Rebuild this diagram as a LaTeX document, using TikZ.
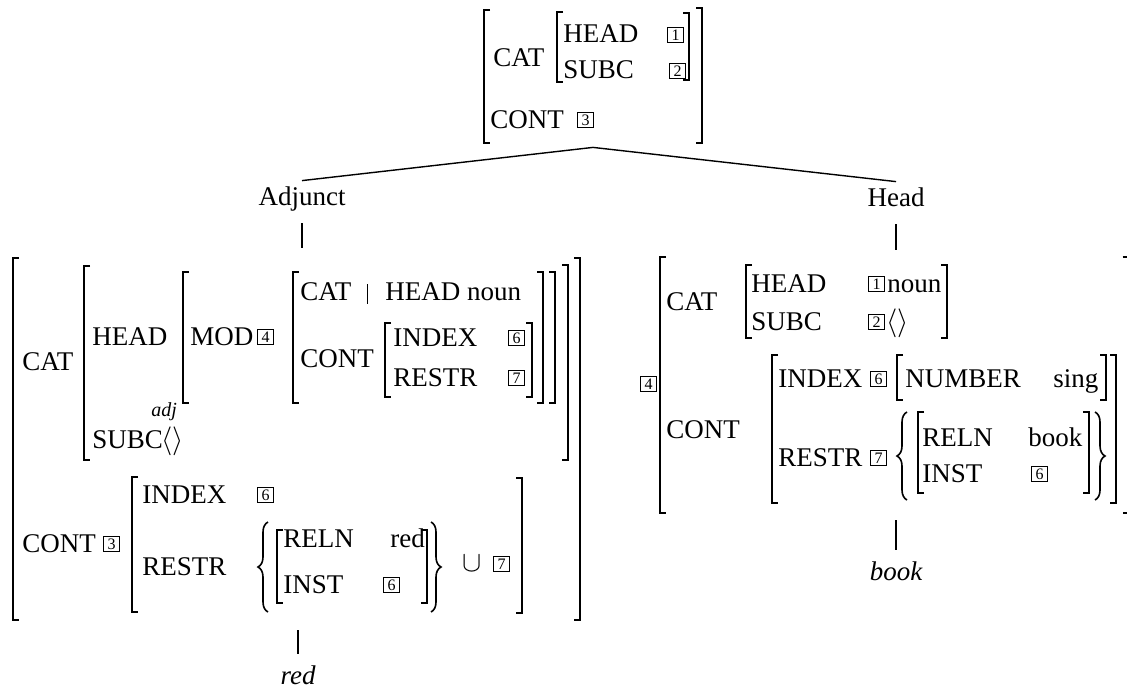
\documentclass[tikz,border=0pt]{standalone}
\usepackage{fontspec}
\setmainfont{Liberation Serif}
\usetikzlibrary{fit, decorations.pathreplacing}
\newcommand{\avmsize}{\fontsize{13.5}{16}\selectfont}
\newcommand{\lbrk}[3]{\draw[brk] (#1,#2) ++(6,0) -- ++(-6,0) -- (#1,#3) -- ++(6,0);}
\newcommand{\rbrk}[3]{\draw[brk] (#1,#2) ++(-6,0) -- ++(6,0) -- (#1,#3) -- ++(-6,0);}
\tikzset{
  av/.style={anchor=base west, inner sep=0pt},
  tg/.style={draw, line width=0.55pt, inner sep=0pt, minimum width=8pt, minimum height=7.5pt,
             anchor=south west, font=\fontsize{8}{8}\selectfont},
  brk/.style={line width=0.8pt},
  brc/.style={line width=0.8pt, decorate, decoration={brace, amplitude=#1}},
  brc/.default=5pt,
  lbl/.style={anchor=base, inner sep=3pt, text height=9pt, text depth=3pt},
  wrd/.style={anchor=base, inner sep=6pt, text height=9pt, text depth=0pt, font=\avmsize\itshape},
  box/.style={inner sep=0pt},
  edge/.style={line width=0.7pt}
}
\begin{document}
\begin{tikzpicture}[x=0.5pt, y=-0.5pt, font=\avmsize]
\useasboundingbox (0,0) rectangle (1127,690);
% mother
\node[av] (tcat) at (493,67) {CAT};
\node[av] (thead) at (563,43) {HEAD};
\node[tg] (t1) at (667,43) {1};
\node[av] (tsubc) at (563,79) {SUBC};
\node[tg] (t2) at (669,79) {2};
\node[av] (tcont) at (490,128) {CONT};
\node[tg] (t3) at (577,128) {3};
\lbrk{484}{10}{143} \lbrk{557}{12}{82} \rbrk{689}{13}{80} \rbrk{702}{8}{143}
\node[box, fit={(484,8) (702,143)}, inner sep=2pt] (tavm) {};
% adjunct daughter
\node[av] (lcat) at (22,370) {CAT};
\node[av] (lhead) at (92,345) {HEAD};
\node[av, font=\fontsize{10}{12}\selectfont\itshape] (ladj) at (151,416) {adj};
\node[av] (lmod) at (190,345) {MOD};
\node[tg] (l4) at (257,345) {4};
\node[av] (lmcat) at (300,300) {CAT};
\draw[line width=0.5pt] (367,284) -- (367,304);
\node[av] (lnoun) at (385,300) {HEAD noun};
\node[av] (lmcont) at (300,367) {CONT};
\node[av] (lmindex) at (393,346) {INDEX};
\node[tg] (lm6) at (508,346) {6};
\node[av] (lmrestr) at (393,386) {RESTR};
\node[tg] (lm7) at (508,386) {7};
\node[av] (lsubc) at (92,448) {SUBC};
\node[av] (lnil) at (161,448) {$\langle\rangle$};
\node[av] (lcont) at (22,552) {CONT};
\node[tg] (l3) at (103,552) {3};
\node[av] (lindex) at (142,503) {INDEX};
\node[tg] (l6) at (257,503) {6};
\node[av] (lrestr) at (142,575) {RESTR};
\node[av] (lreln) at (283,547) {RELN};
\node[av] (lred) at (390,547) {red};
\node[av] (linst) at (283,593) {INST};
\node[tg] (li6) at (383,593) {6};
\node[av] (lcup) at (462,571) {$\cup$};
\node[tg] (l7) at (493,572) {7};
\lbrk{13}{258}{620} \rbrk{580}{258}{620}
\lbrk{84}{266}{460} \rbrk{568}{265}{460}
\lbrk{183}{272}{403} \rbrk{555}{272}{403}
\lbrk{293}{272}{403} \rbrk{543}{272}{403}
\lbrk{385}{323}{397} \rbrk{532}{323}{397}
\lbrk{132}{477}{612} \rbrk{522}{478}{613}
\lbrk{277}{530}{603} \rbrk{427}{530}{603}
\draw[brc] (268,612) -- (268,522);
\draw[brc] (431,522) -- (431,612);
\node[box, fit={(13,258) (580,620)}, inner sep=5pt] (lavm) {};
% head daughter
\node[tg] (r4) at (640,392) {4};
\node[av] (rcat) at (666,310) {CAT};
\node[av] (rhead) at (751,292) {HEAD};
\node[tg] (r1) at (868,292) {1};
\node[av] (rnoun) at (887,292) {noun};
\node[av] (rsubc) at (751,330) {SUBC};
\node[tg] (r2) at (868,330) {2};
\node[av] (rnil) at (886,330) {$\langle\rangle$};
\node[av] (rcont) at (666,438) {CONT};
\node[av] (rindex) at (778,387) {INDEX};
\node[tg] (r6) at (870,387) {6};
\node[av] (rnum) at (905,387) {NUMBER};
\node[av] (rsing) at (1053,387) {sing};
\node[av] (rrestr) at (778,466) {RESTR};
\node[tg] (r7) at (870,466) {7};
\node[av] (rreln) at (922,446) {RELN};
\node[av] (rbook) at (1028,446) {book};
\node[av] (rinst) at (922,482) {INST};
\node[tg] (ri6) at (1031,482) {6};
\lbrk{660}{257}{513} \rbrk{1128.5}{257}{513}
\lbrk{746}{265}{338} \rbrk{947}{265}{338}
\lbrk{772}{355}{503} \rbrk{1116}{355}{503}
\lbrk{897}{355}{400} \rbrk{1106}{355}{400}
\lbrk{918}{412}{493} \rbrk{1089}{412}{493}
\draw[brc] (907,500) -- (907,412);
\draw[brc] (1095,412) -- (1095,500);
\node[box, fit={(660,257) (1127,513)}, inner sep=3.5pt] (ravm) {};
% tree
\node[lbl] (adj) at (302,205) {Adjunct};
\node[lbl] (hd) at (896,206) {Head};
\node[wrd] (red) at (298,684) {red};
\node[wrd] (book) at (896,580) {book};
\draw[edge] (tavm.south) -- (adj.north);
\draw[edge] (tavm.south) -- (hd.north);
\draw[edge, shorten <=3pt] (adj.south) -- (adj.south |- lavm.north);
\draw[edge, shorten <=3pt] (hd.south) -- (hd.south |- ravm.north);
\draw[edge] (lavm.south -| red.north) -- (red.north);
\draw[edge] (ravm.south -| book.north) -- (book.north);
\end{tikzpicture}
\end{document}
